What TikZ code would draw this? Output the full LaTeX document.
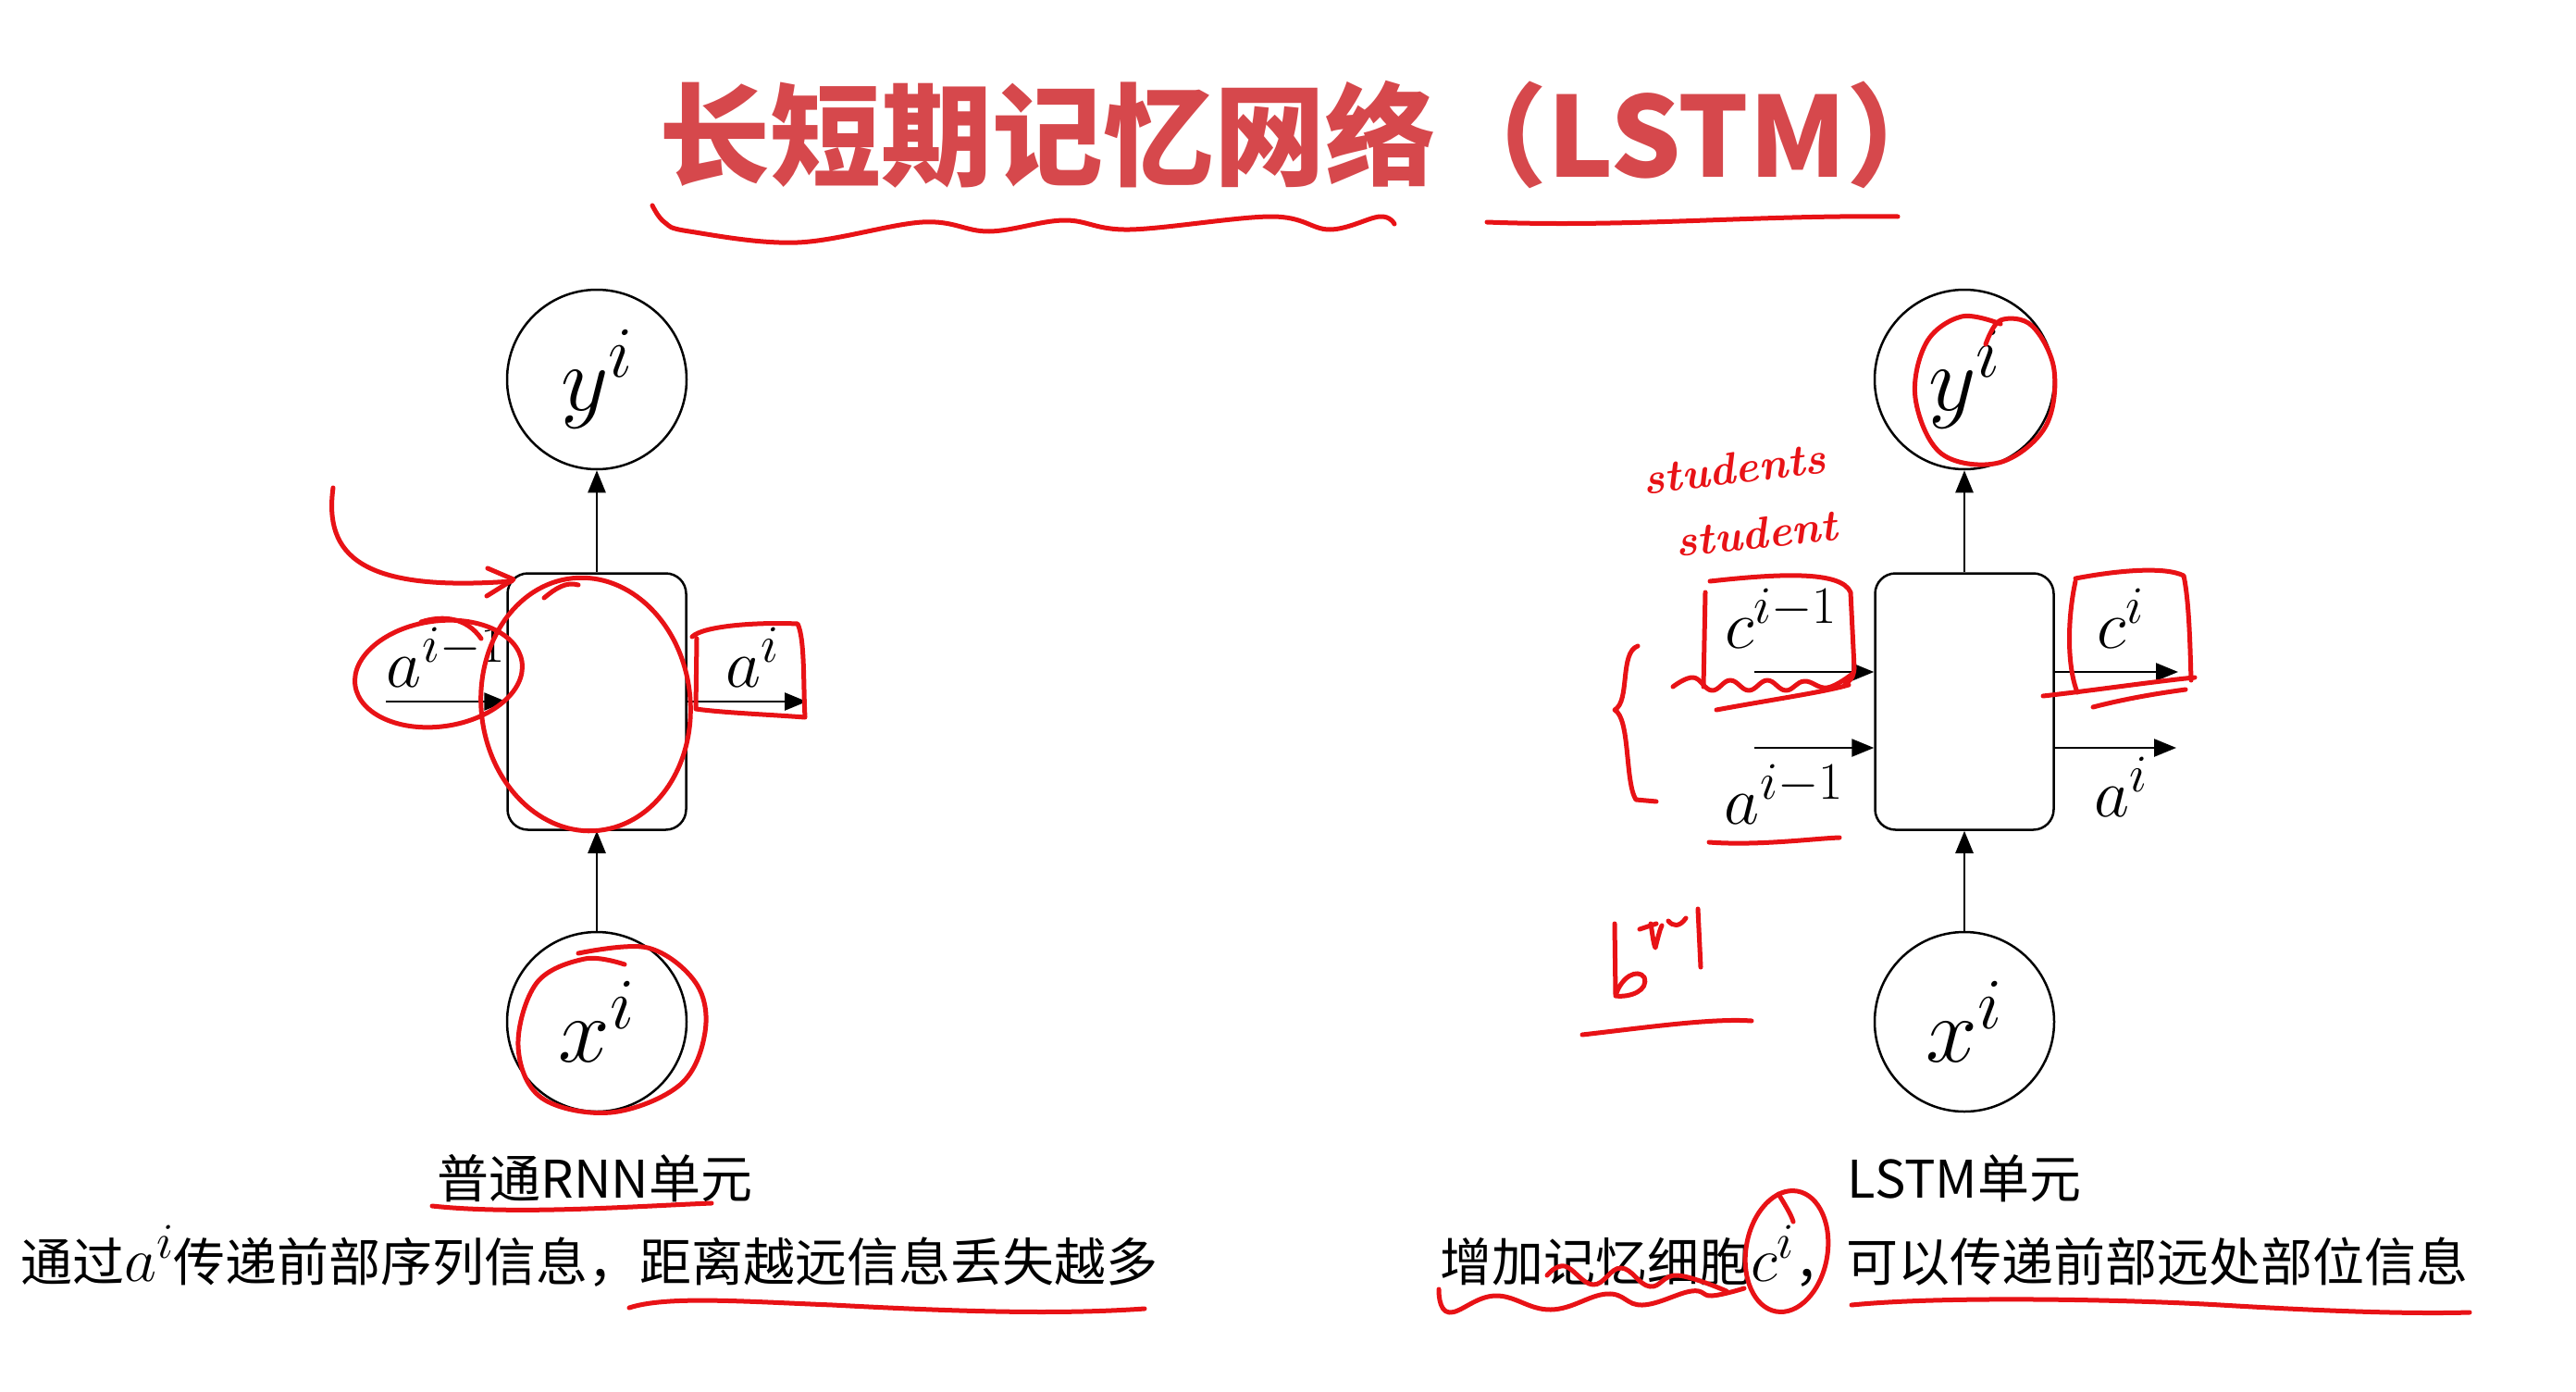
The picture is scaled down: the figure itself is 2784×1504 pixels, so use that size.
\RequirePackage{fix-cm}
\documentclass[tikz,border=0pt]{standalone}
\usepackage{fontspec}
\newfontfamily\cjk{Noto Sans CJK SC}
\usetikzlibrary{arrows.meta}
\definecolor{titlered}{RGB}{214,72,76}
\definecolor{inkred}{RGB}{232,18,22}
% larger superscripts and inline symbols at the sizes used below
\DeclareMathSizes{56}{68}{54}{42}
\DeclareMathSizes{74}{74}{57}{44}
\DeclareMathSizes{100}{100}{78}{60}
\tikzset{
  unit/.style={draw, line width=2.5pt, rounded corners=22pt, minimum width=193pt, minimum height=277pt, inner sep=0pt},
  var/.style={draw, circle, line width=2.5pt, minimum size=194pt, inner sep=0pt, font=\fontsize{100}{100}\selectfont},
  flow/.style={line width=2.5pt, -{Triangle[length=24pt,width=19pt]}},
  lbl/.style={inner sep=0pt, anchor=base, font=\fontsize{74}{74}\selectfont},
  caption/.style={inner sep=0pt, font=\cjk\fontsize{56}{56}\selectfont},
  ink/.style={draw=inkred, line width=5pt, line cap=round, line join=round},
  scrawl/.style={inner sep=0pt, text=inkred, font=\bfseries\itshape\fontsize{48}{48}\selectfont},
}
\begin{document}
\begin{tikzpicture}[x=1pt,y=-1pt]
\useasboundingbox[fill=white] (0,0) rectangle (2784,1504);

% ---------- title ----------
\node[inner sep=0pt, text=titlered, font=\cjk\bfseries\fontsize{120}{120}\selectfont] (title) at (1414,146) {长短期记忆网络（LSTM）};

% ---------- plain RNN cell ----------
\node[var]  (yL)   at (645,410)  {$y^i$};
\node[unit] (boxL) at (645,758)  {};
\node[var]  (xL)   at (645,1104) {$x^i$};
\draw[flow] (boxL.north) -- (yL.south);
\draw[flow] (xL.north) -- (boxL.south);
\coordinate (aLin)  at (417,758);
\coordinate (aLout) at (872,758);
\draw[flow] (aLin) -- (boxL.west);
\draw[flow] (boxL.east) -- (aLout);
\node[lbl] (aLinT)  at (482,742) {$a^{i-1}$};
\node[lbl] (aLoutT) at (813,742) {$a^i$};

\node[caption] (capL) at (643,1273) {普通RNN单元};
\node[caption, anchor=west] (descL) at (22,1357) {通过$a^i$传递前部序列信息，距离越远信息丢失越多};

% ---------- LSTM cell ----------
\node[var]  (yR)   at (2123,410)  {$y^i$};
\node[unit] (boxR) at (2123,758)  {};
\node[var]  (xR)   at (2123,1104) {$x^i$};
\draw[flow] (boxR.north) -- (yR.south);
\draw[flow] (xR.north) -- (boxR.south);
\coordinate (cRin)  at (1896,726);
\coordinate (aRin)  at (1896,808);
\coordinate (cRout) at (2354,726);
\coordinate (aRout) at (2352,808);
\draw[flow] (cRin) -- (cRin -| boxR.west);
\draw[flow] (aRin) -- (aRin -| boxR.west);
\draw[flow] (cRout -| boxR.east) -- (cRout);
\draw[flow] (aRout -| boxR.east) -- (aRout);
\node[lbl] (cRinT)  at (1925,700) {$c^{i-1}$};
\node[lbl] (aRinT)  at (1928,890) {$a^{i-1}$};
\node[lbl] (cRoutT) at (2292,700) {$c^i$};
\node[lbl] (aRoutT) at (2292,882) {$a^i$};

\node[caption] (capR) at (2123,1273) {LSTM单元};
\node[caption, anchor=west] (descR) at (1556,1357) {增加记忆细胞$c^i$，可以传递前部远处部位信息};

% ---------- red pen marks ----------
% title underlines
\draw[ink] plot[smooth, tension=0.6] coordinates {(705,222) (718,240) (745,250) (862,262) (997,240) (1069,250) (1150,238) (1221,248) (1374,234) (1437,248) (1491,234) (1507,242)};
\draw[ink] (1607,240) .. controls (1760,246) and (1900,232) .. (2051,234);

% left cell
\draw[ink] (360,527) .. controls (350,600) and (390,640) .. (553,628);
\draw[ink] (527,614) -- (555,626) -- (526,644);
\draw[ink, rotate around={6:(633,761)}] (633,761) ellipse [x radius=113pt, y radius=137pt];
\draw[ink] (588,646) .. controls (600,636) and (612,628) .. (625,632);
\draw[ink, rotate around={8:(474,728)}] (474,728) ellipse [x radius=91pt, y radius=57pt];
\draw[ink] (455,672) .. controls (480,664) and (505,668) .. (520,690);
\draw[ink] (748,688) .. controls (760,676) and (820,672) .. (862,674) .. controls (870,690) and (868,740) .. (870,775) .. controls (830,772) and (780,770) .. (752,766) -- (753,690);
\draw[ink] plot[smooth, tension=0.6] coordinates {(625,1030) (700,1024) (752,1062) (762,1115) (735,1172) (660,1202) (585,1186) (560,1130) (580,1062) (632,1036) (675,1042)};
\draw[ink] (467,1303) .. controls (560,1313) and (690,1303) .. (769,1300);
\draw[ink] (680,1413) .. controls (720,1400) and (800,1406) .. (900,1410) .. controls (1050,1418) and (1150,1420) .. (1237,1414);

% right cell
\draw[ink] plot[smooth, tension=0.6] coordinates {(2162,350) (2120,342) (2082,370) (2070,430) (2098,490) (2160,500) (2210,462) (2220,400) (2196,352) (2162,346) (2146,372)};
\node[scrawl, rotate=7] (stu1) at (1874,506) {students};
\node[scrawl, rotate=6] (stu2) at (1898,576) {student};
\draw[ink] (1843,640) -- (1841,742);
\draw[ink] (1848,628) .. controls (1920,620) and (1990,616) .. (2000,640) -- (2004,722) .. controls (2003,732) and (2000,736) .. (1994,738);
\draw[ink] plot[smooth, tension=0.7] coordinates {(1808,742) (1830,732) (1850,746) (1870,735) (1890,746) (1910,735) (1930,746) (1950,736) (1975,743) (2002,728)};
\draw[ink] (1855,767) .. controls (1920,755) and (1970,748) .. (1998,740);
\draw[ink] (2243,628) .. controls (2234,670) and (2234,720) .. (2245,748);
\draw[ink] (2243,625) .. controls (2290,616) and (2340,612) .. (2360,622) .. controls (2366,650) and (2367,700) .. (2368,735);
\draw[ink] (2208,752) .. controls (2270,745) and (2330,736) .. (2372,732);
\draw[ink] (2262,764) .. controls (2300,754) and (2340,748) .. (2362,745);
\draw[ink] (1770,698) .. controls (1750,705) and (1762,758) .. (1745,767) .. controls (1762,776) and (1756,845) .. (1768,864) -- (1790,866);
\draw[ink] (1847,910) .. controls (1900,914) and (1960,906) .. (1988,905);
% handwritten b^{r-1}
\draw[ink] (1745,998) -- (1746,1076) .. controls (1752,1055) and (1770,1046) .. (1777,1056) .. controls (1782,1070) and (1762,1078) .. (1746,1076);
\draw[ink] (1772,1004) -- (1790,998);
\draw[ink] (1784,998) .. controls (1786,1010) and (1787,1020) .. (1789,1024) .. controls (1792,1012) and (1794,1004) .. (1796,1000);
\draw[ink] (1803,995) .. controls (1808,1001) and (1815,1002) .. (1822,992);
\draw[ink] (1835,982) -- (1838,1045);
\draw[ink] (1710,1118) .. controls (1780,1110) and (1850,1100) .. (1893,1103);
% under the LSTM caption
\draw[ink] plot[smooth, tension=0.7] coordinates {(1555,1393) (1566,1418) (1616,1400) (1676,1415) (1737,1398) (1775,1410) (1828,1395) (1850,1400) (1885,1392)};
\draw[ink] plot[smooth, tension=0.7] coordinates {(1672,1378) (1691,1368) (1722,1388) (1752,1370) (1783,1390) (1813,1378) (1866,1395)};
\draw[ink, rotate around={-10:(1931,1352)}] (1931,1352) ellipse [x radius=44pt, y radius=66pt];
\draw[ink] (1922,1290) .. controls (1930,1303) and (1936,1313) .. (1938,1320);
\draw[ink] (2001,1410) .. controls (2100,1400) and (2300,1404) .. (2400,1410) .. controls (2500,1416) and (2600,1420) .. (2669,1418);
\end{tikzpicture}
\end{document}
